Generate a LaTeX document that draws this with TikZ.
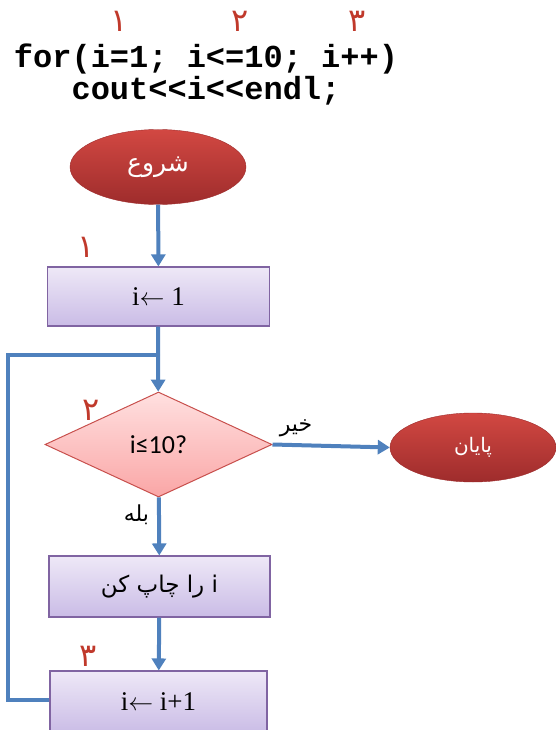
\documentclass[tikz,border=0pt]{standalone}
\usepackage{fontspec}
\setmainfont{Liberation Serif}
\setmonofont{Liberation Mono}
\newfontfamily\fafont[Script=Arabic]{DejaVu Sans}
\newfontfamily\calfont{Carlito}
\TeXXeTstate=1
\usetikzlibrary{arrows.meta,shapes.geometric}

\definecolor{flowblue}{RGB}{79,129,189}
\definecolor{numred}{RGB}{192,57,43}
\definecolor{boxedge}{RGB}{128,100,162}
\definecolor{boxtop}{RGB}{238,232,247}
\definecolor{boxbot}{RGB}{202,188,230}
\definecolor{diaedge}{RGB}{200,80,77}
\definecolor{diatop}{RGB}{255,224,224}
\definecolor{diabot}{RGB}{250,166,166}
\definecolor{termtop}{RGB}{210,72,66}
\definecolor{termbot}{RGB}{158,44,44}

\newcommand{\assign}{\ensuremath{\leftarrow}}

\begin{document}
\begin{tikzpicture}[
  x=1pt,y=-1pt,
  code/.style={font=\fontsize{32}{32}\selectfont\ttfamily\bfseries,anchor=base,inner sep=0pt},
  num/.style={font=\fontsize{32}{32}\selectfont\fafont,text=numred,inner sep=0pt},
  terminal/.style={ellipse,draw=termbot,top color=termtop,bottom color=termbot,text=white,minimum width=176pt,minimum height=75pt,inner sep=0pt},
  procbox/.style={draw=boxedge,line width=1.1pt,top color=boxtop,bottom color=boxbot,minimum width=222pt,minimum height=59pt,inner sep=0pt},
  decision/.style={diamond,draw=diaedge,line width=1pt,top color=diatop,bottom color=diabot,minimum width=227pt,minimum height=105pt,inner sep=0pt},
  flow/.style={draw=flowblue,line width=4pt,-{Triangle[length=12pt,width=14pt]}},
  lbl/.style={font=\fontsize{22}{22}\selectfont\fafont,inner sep=0pt},
]
  \useasboundingbox (0,0) rectangle (556,730);

  \node[num] (n1) at (119,21) {\beginR ۱\endR};
  \node[num] (n2) at (240,21) {\beginR ۲\endR};
  \node[num] (n3) at (357,21) {\beginR ۳\endR};
  \node[code] (for) at (206,68) {for(i=1; i<=10; i++)};
  \node[code] (cout) at (206,100) {cout<<i<<endl;};

  \node[terminal,font=\fontsize{25}{25}\selectfont\fafont] (start) at (158,167) {\beginR شروع\endR};
  \node[procbox,font=\fontsize{27}{27}\selectfont] (init) at (158.5,296.5) {i\assign\ 1};
  \node[decision,font=\fontsize{26}{26}\selectfont\calfont] (cond) at (158.5,444.5) {i≤10?};
  \node[terminal,minimum width=166pt,minimum height=69pt,font=\fontsize{20}{20}\selectfont\fafont] (stop) at (473,447.5) {\beginR پایان\endR};
  \node[procbox,minimum width=221pt,minimum height=61pt,font=\fontsize{23}{23}\selectfont\fafont] (show) at (159.5,586.5) {\beginR i را چاپ کن\endR};
  \node[procbox,minimum width=217pt,minimum height=62pt,font=\fontsize{27}{27}\selectfont] (inc) at (158.5,702) {i\assign\ i+1};

  \node[num] (m1) at (86,247) {\beginR ۱\endR};
  \node[num] (m2) at (91,410) {\beginR ۲\endR};
  \node[num] (m3) at (88,656) {\beginR ۳\endR};

  \coordinate (join) at (158,355);

  \draw[flow] (start) -- (init);
  \draw[flow,-] (init) -- (join);
  \draw[flow] (join) -- (cond);
  \draw[flow] (cond.east) -- node[lbl,above=6pt,pos=0.2] (no) {\beginR خیر\endR} (stop.west);
  \draw[flow] (cond) -- node[lbl,left=8pt,pos=0.3] (yes) {\beginR بله\endR} (show);
  \draw[flow] (show) -- (inc);
  \draw[flow,-] (inc.west) ++(0,-2) -- ++(-41,0) |- (join);
\end{tikzpicture}
\end{document}
